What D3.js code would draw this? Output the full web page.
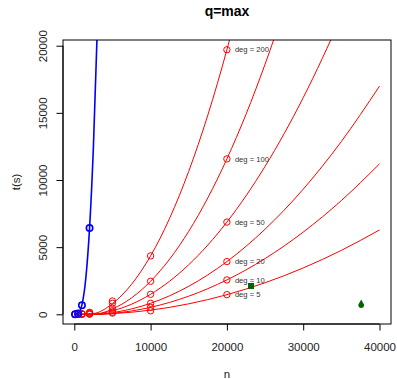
<!DOCTYPE html>
<html>
<head>
<meta charset="utf-8">
<script src="https://cdn.jsdelivr.net/npm/d3@7"></script>
<style>
  html, body { margin: 0; padding: 0; background: #fff; }
  svg { display: block; font-family: "Liberation Sans", Arial, Helvetica, sans-serif; }
</style>
</head>
<body>
<svg id="chart" width="397" height="379"></svg>
<script>
// Timings t(s) against problem size n for several polynomial degrees.
const degrees = [5, 10, 20, 50, 100, 200];

// measured timings (circles)
const measuredN = [100, 500, 1000, 2000, 5000, 10000, 20000];
const measuredDeg5   = [0, 2, 6, 15, 90, 260, 1463];
const measuredDeg10  = [0, 3, 9, 25, 150, 520, 2560];
const measuredDeg20  = [0, 4, 12, 40, 270, 820, 3925];
const measuredDeg50  = [1, 6, 18, 60, 450, 1490, 6866];
const measuredDeg100 = [1, 8, 25, 90, 820, 2460, 11570];
const measuredDeg200 = [2, 10, 40, 150, 990, 4350, 19700];

// fitted trend for each degree
const fitN = [100, 2500, 5000, 7500, 10000, 15000, 20000, 25000, 30000, 35000, 40000];
const fitDeg5   = [0, -1, 50, 154, 310, 780, 1460, 2350, 3450, 4760, 6280];
const fitDeg10  = [0, -12, 70, 248, 520, 1350, 2560, 4150, 6120, 8470, 11200];
const fitDeg20  = [0, -9, 124, 401, 820, 2087, 3925, 6335, 9315, 12867, 16990];
const fitDeg50  = [0, 8, 259, 753, 1490, 3692, 6866, 11011, 16128, 22216, 29276];
const fitDeg100 = [0, -8, 399, 1222, 2460, 6184, 11570, 18619, 27330, 37704, 49740];
const fitDeg200 = [0, 56, 800, 2231, 4350, 10650, 19700, 31500, 46050, 63350, 83400];

// reference method (blue)
const blueN = [100, 500, 1000, 2000];
const blueT = [0, 60, 670, 6418];
const blueFitN = [100, 500, 1000, 1500, 2000, 2500, 3000, 3500];
const blueFitT = [0, 80, 700, 2650, 6420, 12400, 21000, 33000];

// two single runs (green)
const squarePoint = [23160, 2110];
const dropPoint = [37600, 770];

const xTicks = [0, 10000, 20000, 30000, 40000];
const yTicks = [0, 5000, 10000, 15000, 20000];

const measured = [measuredDeg5, measuredDeg10, measuredDeg20, measuredDeg50, measuredDeg100, measuredDeg200];
const fits = [fitDeg5, fitDeg10, fitDeg20, fitDeg50, fitDeg100, fitDeg200];

const plot = { left: 63, right: 391, top: 40, bottom: 324 };

const x = d3.scaleLinear().domain([-1481, 41507]).range([plot.left, plot.right]);
const y = d3.scaleLinear().domain([-722, 20425]).range([plot.bottom, plot.top]);

const svg = d3.select("#chart");

svg.append("defs").append("clipPath").attr("id", "plotclip")
  .append("rect")
  .attr("x", plot.left).attr("y", plot.top)
  .attr("width", plot.right - plot.left).attr("height", plot.bottom - plot.top);

const g = svg.append("g").attr("clip-path", "url(#plotclip)");

const line = d3.line().x(d => x(d[0])).y(d => y(d[1])).curve(d3.curveMonotoneX);

// red fitted curves
fits.forEach(vals => {
  g.append("path")
    .datum(fitN.map((n, i) => [n, vals[i]]))
    .attr("d", line)
    .attr("fill", "none")
    .attr("stroke", "#ff0000")
    .attr("stroke-width", 1);
});

// red measured circles
measured.forEach(vals => {
  g.selectAll(null)
    .data(measuredN.map((n, i) => [n, vals[i]]))
    .join("circle")
    .attr("cx", d => x(d[0])).attr("cy", d => y(d[1]))
    .attr("r", 3.2)
    .attr("fill", "none")
    .attr("stroke", "#ff0000")
    .attr("stroke-width", 1);
});

// blue curve and points
g.append("path")
  .datum(blueFitN.map((n, i) => [n, blueFitT[i]]))
  .attr("d", line)
  .attr("fill", "none")
  .attr("stroke", "#0000ff")
  .attr("stroke-width", 1.6);

g.selectAll(null)
  .data(blueN.map((n, i) => [n, blueT[i]]))
  .join("circle")
  .attr("cx", d => x(d[0])).attr("cy", d => y(d[1]))
  .attr("r", 3.2)
  .attr("fill", "none")
  .attr("stroke", "#0000ff")
  .attr("stroke-width", 1.6);

// green markers
g.append("rect")
  .attr("x", x(squarePoint[0]) - 3).attr("y", y(squarePoint[1]) - 3)
  .attr("width", 6).attr("height", 6)
  .attr("fill", "#006400");

{
  const cx = x(dropPoint[0]), cy = y(dropPoint[1]);
  const p = d3.path();
  p.moveTo(cx, cy - 4.5);
  p.lineTo(cx + 2.8, cy + 0.5);
  p.arc(cx, cy + 1.2, 2.9, -0.25, Math.PI + 0.25);
  p.closePath();
  g.append("path").attr("d", p.toString()).attr("fill", "#006400");
}

// degree labels beside the n = 20000 circles
const labelIdx = measuredN.indexOf(20000);
svg.selectAll(null)
  .data(degrees.map((d, i) => ({ deg: d, t: measured[i][labelIdx] })))
  .join("text")
  .attr("x", x(20000) + 8)
  .attr("y", d => y(d.t))
  .attr("dy", "0.35em")
  .attr("font-size", 7.6)
  .attr("fill", "#333")
  .text(d => `deg = ${d.deg}`);

// frame
svg.append("rect")
  .attr("x", plot.left).attr("y", plot.top)
  .attr("width", plot.right - plot.left).attr("height", plot.bottom - plot.top)
  .attr("fill", "none").attr("stroke", "#000").attr("stroke-width", 1);

// axes
const xAxis = svg.append("g")
  .attr("transform", `translate(0,${plot.bottom})`)
  .call(d3.axisBottom(x).tickValues(xTicks).tickSize(6.5).tickFormat(d3.format("d")));
xAxis.select(".domain").attr("d", `M${x(xTicks[0])},0H${x(xTicks[xTicks.length - 1])}`);
xAxis.selectAll("text").attr("y", 27).attr("dy", 0)
  .attr("font-size", 11.5).attr("font-family", null).attr("fill", "#222");

const yAxis = svg.append("g")
  .attr("transform", `translate(${plot.left},0)`)
  .call(d3.axisLeft(y).tickValues(yTicks).tickSize(6.5).tickFormat(d3.format("d")));
yAxis.select(".domain").attr("d", `M0,${y(yTicks[0])}V${y(yTicks[yTicks.length - 1])}`);
yAxis.selectAll("text")
  .attr("x", 0).attr("dy", 0)
  .attr("transform", "translate(-16.3,0) rotate(-90)")
  .attr("text-anchor", "middle")
  .attr("font-size", 11.5).attr("font-family", null).attr("fill", "#222");

// titles
svg.append("text")
  .attr("x", (plot.left + plot.right) / 2).attr("y", 16)
  .attr("text-anchor", "middle")
  .attr("font-size", 14).attr("font-weight", "bold")
  .text("q=max");

svg.append("text")
  .attr("x", (plot.left + plot.right) / 2).attr("y", 378)
  .attr("text-anchor", "middle")
  .attr("font-size", 11.5).attr("fill", "#222")
  .text("n");

svg.append("text")
  .attr("transform", `translate(19.5,${(plot.top + plot.bottom) / 2}) rotate(-90)`)
  .attr("text-anchor", "middle")
  .attr("font-size", 11.5).attr("fill", "#222")
  .text("t(s)");
</script>
</body>
</html>
